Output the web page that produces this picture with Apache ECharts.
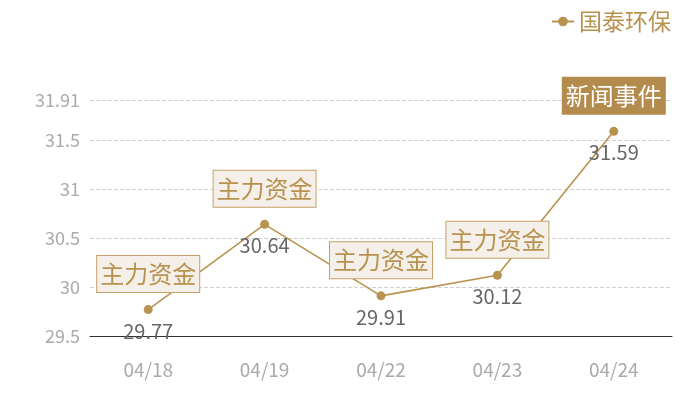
<!DOCTYPE html>
<html>
<head>
<meta charset="utf-8">
<script src="https://cdn.jsdelivr.net/npm/echarts@6/dist/echarts.min.js"></script>
<style>html,body{margin:0;padding:0;background:#fff}#c{width:700px;height:400px}</style>
</head>
<body>
<div id="c"></div>
<script>
var categories = ['04/18', '04/19', '04/22', '04/23', '04/24'];
var prices = [29.77, 30.64, 29.91, 30.12, 31.59];
var events = ['主力资金', '主力资金', '主力资金', '主力资金', '新闻事件'];
var eventFilled = [false, false, false, false, true];
var yTicks = [29.5, 30, 30.5, 31, 31.5, 31.91];
var seriesName = '国泰环保';

var gold = '#b8924f';
var font = 'Noto Sans CJK SC';

var chart = echarts.init(document.getElementById('c'));

var eventData = prices.map(function (v, i) {
  var filled = eventFilled[i];
  return {
    value: v,
    name: events[i],
    label: {
      color: filled ? '#ffffff' : '#b8924f',
      backgroundColor: filled ? '#b38b4d' : '#f4efe9',
      borderColor: filled ? '#b38b4d' : '#c6a06a',
      borderWidth: 1
    }
  };
});

chart.setOption({
  animation: false,
  textStyle: { fontFamily: font },
  legend: {
    data: [seriesName],
    right: 24,
    top: 5,
    itemWidth: 22,
    itemHeight: 12,
    itemGap: 8,
    textStyle: { color: gold, fontSize: 23, fontFamily: font }
  },
  grid: { left: 90, right: 28, top: 100, bottom: 64 },
  xAxis: {
    type: 'category',
    data: categories,
    boundaryGap: true,
    axisLine: { lineStyle: { color: '#333', width: 1 } },
    axisTick: { show: false },
    axisLabel: { color: '#aaaaaa', fontSize: 19, margin: 24, fontFamily: font }
  },
  yAxis: {
    type: 'value',
    min: yTicks[0],
    max: yTicks[yTicks.length - 1],
    interval: 0.5,
    axisLine: { show: false },
    axisTick: { show: false },
    axisLabel: {
      color: '#aaaaaa', fontSize: 18, margin: 10, fontFamily: font,
      showMaxLabel: true,
      formatter: function (v) { return String(+v.toFixed(2)); }
    },
    splitLine: { lineStyle: { color: '#d0d0d0', type: 'dashed' } }
  },
  series: [
    {
      name: seriesName,
      type: 'line',
      data: prices,
      symbol: 'circle',
      symbolSize: 9,
      itemStyle: { color: gold },
      lineStyle: { color: gold, width: 1.6 },
      z: 2,
      label: {
        show: true,
        position: 'bottom',
        distance: 7,
        color: '#666666',
        fontSize: 20,
        fontFamily: font
      }
    },
    {
      name: 'events',
      type: 'scatter',
      data: eventData,
      symbolSize: 1,
      itemStyle: { color: 'rgba(0,0,0,0)', opacity: 1 },
      silent: true,
      z: 5,
      label: {
        show: true,
        position: 'top',
        distance: 17,
        fontSize: 24,
        lineHeight: 26,
        padding: [5, 3, 5, 3],
        fontFamily: font,
        formatter: function (p) { return p.name; }
      }
    }
  ]
});
</script>
</body>
</html>
